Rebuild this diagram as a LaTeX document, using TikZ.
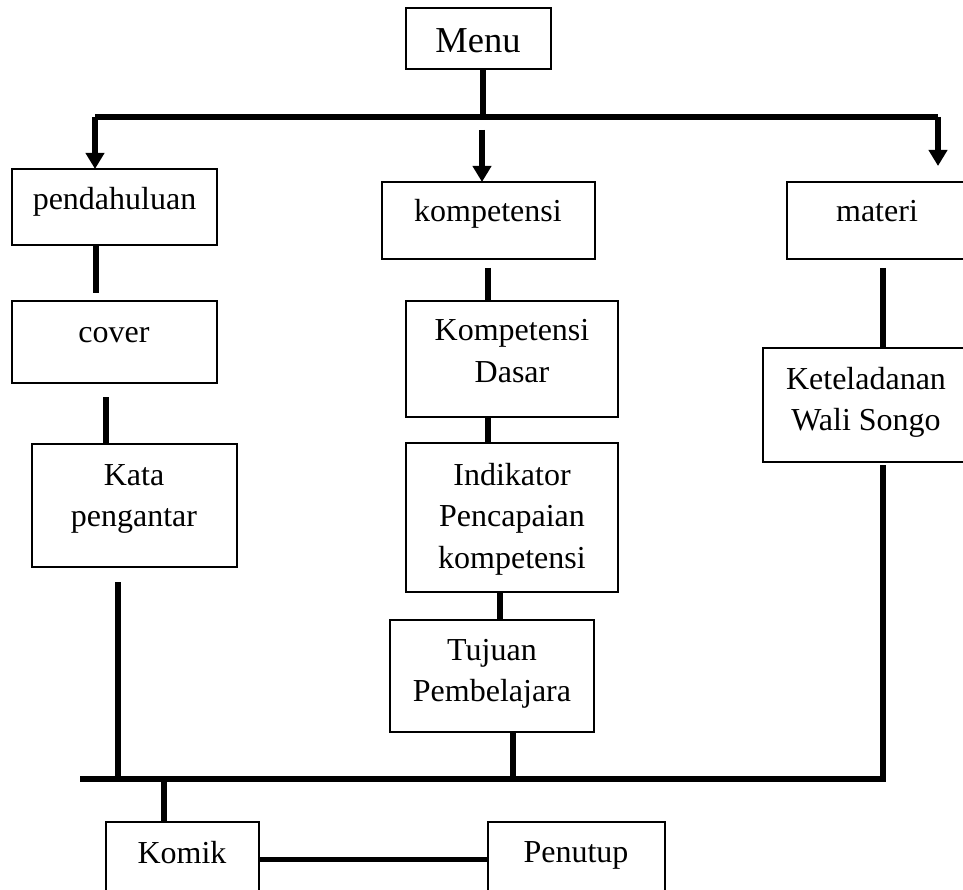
\documentclass[tikz,border=0pt]{standalone}
\usepackage{fontspec}
\setmainfont{Liberation Serif}
\usetikzlibrary{arrows.meta}
\newcommand\mlines[1]{\begin{tabular}[t]{@{}c@{}}#1\end{tabular}}
\tikzset{
  box/.style={draw=black, line width=1.3pt, inner sep=0pt, outer sep=0pt, fill=none},
  lbl/.style={inner sep=0pt, anchor=base, font=\fontsize{32}{41.5}\selectfont},
  menulbl/.style={inner sep=0pt, anchor=base, font=\fontsize{36.5}{44}\selectfont},
  conn/.style={line width=5.5pt, draw=black},
  barline/.style={line width=6pt, draw=black},
  tip/.style={-{Triangle[width=18pt,length=16pt]}}
}
\begin{document}
\begin{tikzpicture}[x=1pt,y=-1pt]
\useasboundingbox (0,0) rectangle (963,890);
\fill[white] (0,0) rectangle (963,890);
% boxes
\node[box, minimum width=145pt, minimum height=61pt] (menu) at (478.5,38.5) {};
\node[box, minimum width=205pt, minimum height=76pt] (pend) at (114.5,207) {};
\node[box, minimum width=213pt, minimum height=77pt] (komp) at (488.5,220.5) {};
\node[box, minimum width=181pt, minimum height=77pt] (mat) at (877.5,220.5) {};
\node[box, minimum width=205pt, minimum height=82pt] (cover) at (114.5,342) {};
\node[box, minimum width=212pt, minimum height=116pt] (kd) at (512,359) {};
\node[box, minimum width=207pt, minimum height=114pt] (ket) at (866.5,405) {};
\node[box, minimum width=205pt, minimum height=123pt] (kata) at (134.5,505.5) {};
\node[box, minimum width=212pt, minimum height=149pt] (ind) at (512,517.5) {};
\node[box, minimum width=204pt, minimum height=112pt] (tuj) at (492,676) {};
\node[box, minimum width=153pt, minimum height=88pt] (komik) at (182.5,866) {};
\node[box, minimum width=177pt, minimum height=88pt] (pen) at (576.5,866) {};
% labels
\node[menulbl] (tmenu) at (478,53) {Menu};
\node[lbl] (tpend) at (114.5,210) {pendahuluan};
\node[lbl] (tkomp) at (488,222) {kompetensi};
\node[lbl] (tmat) at (877,222) {materi};
\node[lbl] (tcover) at (114,342) {cover};
\node[lbl] (tkd) at (512,341) {\mlines{Kompetensi\\Dasar}};
\node[lbl] (tket) at (866,389) {\mlines{Keteladanan\\Wali Songo}};
\node[lbl] (tkata) at (134,485) {\mlines{Kata\\pengantar}};
\node[lbl] (tind) at (512,485) {\mlines{Indikator\\Pencapaian\\kompetensi}};
\node[lbl] (ttuj) at (492,660) {\mlines{Tujuan\\Pembelajara}};
\node[lbl] (tkomik) at (182,863) {Komik};
\node[lbl] (tpen) at (576,862) {Penutup};
% coordinates
\coordinate (tl) at (95,117);
\coordinate (tr) at (938,117);
\coordinate (mx) at (483,117);
\coordinate (rtip) at (938,166);
\coordinate (mstart) at (482,130);
\coordinate (p1) at (96,293);
\coordinate (p2) at (106,397);
\coordinate (p3) at (118,582);
\coordinate (p4) at (488,268);
\coordinate (x500) at (500,0);
\coordinate (x513) at (513,0);
\coordinate (p6) at (883,268);
\coordinate (p7) at (883,465);
\coordinate (br) at (883,779);
\coordinate (bl) at (80,779);
\coordinate (x164) at (164,0);
\coordinate (y859) at (0,859.5);
% top connectors
\draw[conn] (menu.south -| mx) -- (mx);
\draw[barline] (tl) -- (tr);
\draw[conn,tip] (tl) -- (tl |- pend.north);
\draw[conn,tip] (mstart) -- (mstart |- komp.north);
\draw[conn,tip] (tr) -- (rtip);
% left column
\draw[conn] (pend.south -| p1) -- (p1);
\draw[conn] (p2) -- (p2 |- kata.north);
\draw[conn] (p3) -- (p3 |- bl);
% middle column
\draw[conn] (p4) -- (p4 |- kd.north);
\draw[conn] (kd.south -| p4) -- (ind.north -| p4);
\draw[conn] (ind.south -| x500) -- (tuj.north -| x500);
\draw[conn] (tuj.south -| x513) -- (x513 |- bl);
% right column
\draw[conn] (p6) -- (p6 |- ket.north);
\draw[conn] (p7) -- (br) -- (bl);
% bottom
\draw[conn] (x164 |- bl) -- (komik.north -| x164);
\draw[conn] (komik.east |- y859) -- (pen.west |- y859);
\end{tikzpicture}
\end{document}
